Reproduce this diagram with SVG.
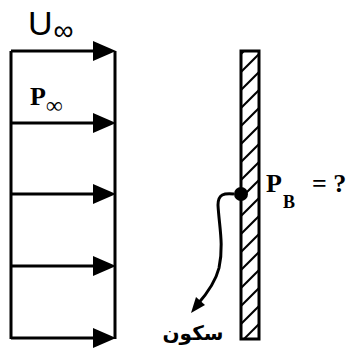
<svg xmlns="http://www.w3.org/2000/svg" width="352" height="351" viewBox="0 0 352 351">
<style>
.ln{stroke:#000;stroke-width:3;fill:none}
.hd{fill:#000}
.sans{font-family:"Liberation Sans",Arial,sans-serif;fill:#000}
.serif{font-family:"Liberation Serif","Times New Roman",serif;font-weight:bold;fill:#000}
.hatch{stroke:#000;stroke-width:2}
</style>
<defs>
<clipPath id="wallclip"><rect x="241" y="51" width="18" height="288"/></clipPath>
<polygon id="ah" points="0,0 -23,-10 -23,10"/>
</defs>
<rect width="352" height="351" fill="#fff"/>
<g id="profile">
<line class="ln" x1="11" y1="51" x2="11" y2="339"/>
<line class="ln" x1="115" y1="51" x2="115" y2="339"/>
<line class="ln" x1="11" y1="51" x2="100" y2="51"/>
<line class="ln" x1="11" y1="123" x2="100" y2="123"/>
<line class="ln" x1="11" y1="194" x2="100" y2="194"/>
<line class="ln" x1="11" y1="266" x2="100" y2="266"/>
<line class="ln" x1="11" y1="338" x2="100" y2="338"/>
<use href="#ah" class="hd" x="116" y="51"/>
<use href="#ah" class="hd" x="116" y="123"/>
<use href="#ah" class="hd" x="116" y="194"/>
<use href="#ah" class="hd" x="116" y="266"/>
<use href="#ah" class="hd" x="116" y="338"/>
</g>
<g id="label-u">
<text class="sans" x="28" y="35" font-size="34">U<tspan font-size="28" dy="5" dx="1">∞</tspan></text>
</g>
<g id="label-pinf">
<text class="serif" x="30" y="105" font-size="26">P<tspan font-size="23" dy="8">∞</tspan></text>
</g>
<g id="wall">
<g clip-path="url(#wallclip)">
<line class="hatch" x1="241" y1="54" x2="259" y2="36"/>
<line class="hatch" x1="241" y1="72" x2="259" y2="54"/>
<line class="hatch" x1="241" y1="90" x2="259" y2="72"/>
<line class="hatch" x1="241" y1="108" x2="259" y2="90"/>
<line class="hatch" x1="241" y1="126" x2="259" y2="108"/>
<line class="hatch" x1="241" y1="144" x2="259" y2="126"/>
<line class="hatch" x1="241" y1="162" x2="259" y2="144"/>
<line class="hatch" x1="241" y1="180" x2="259" y2="162"/>
<line class="hatch" x1="241" y1="198" x2="259" y2="180"/>
<line class="hatch" x1="241" y1="216" x2="259" y2="198"/>
<line class="hatch" x1="241" y1="234" x2="259" y2="216"/>
<line class="hatch" x1="241" y1="252" x2="259" y2="234"/>
<line class="hatch" x1="241" y1="270" x2="259" y2="252"/>
<line class="hatch" x1="241" y1="288" x2="259" y2="270"/>
<line class="hatch" x1="241" y1="306" x2="259" y2="288"/>
<line class="hatch" x1="241" y1="324" x2="259" y2="306"/>
<line class="hatch" x1="241" y1="342" x2="259" y2="324"/>
<line class="hatch" x1="241" y1="360" x2="259" y2="342"/>
</g>
<rect class="ln" x="241" y="51" width="18" height="288"/>
</g>
<g id="point-b">
<circle cx="241" cy="194" r="7" fill="#000"/>
</g>
<g id="label-pb">
<text class="serif" x="266" y="192" font-size="26">P<tspan font-size="18" dy="16" dx="1">B</tspan></text>
<text class="serif" x="312" y="192" font-size="26">= ?</text>
</g>
<g id="connectors">
<path class="ln" stroke-width="2" d="M234,194 C224,193 218,194 218,205 C219,225 224,245 219,268 C215,284 205,296 197,305"/>
<polygon class="hd" points="191,313 196,297 205,305"/>
</g>
<g id="label-rest">
<text x="193" y="340" font-size="20" font-weight="bold" text-anchor="middle" font-family="'DejaVu Sans','Noto Sans',sans-serif">سکون</text>
</g>
</svg>
